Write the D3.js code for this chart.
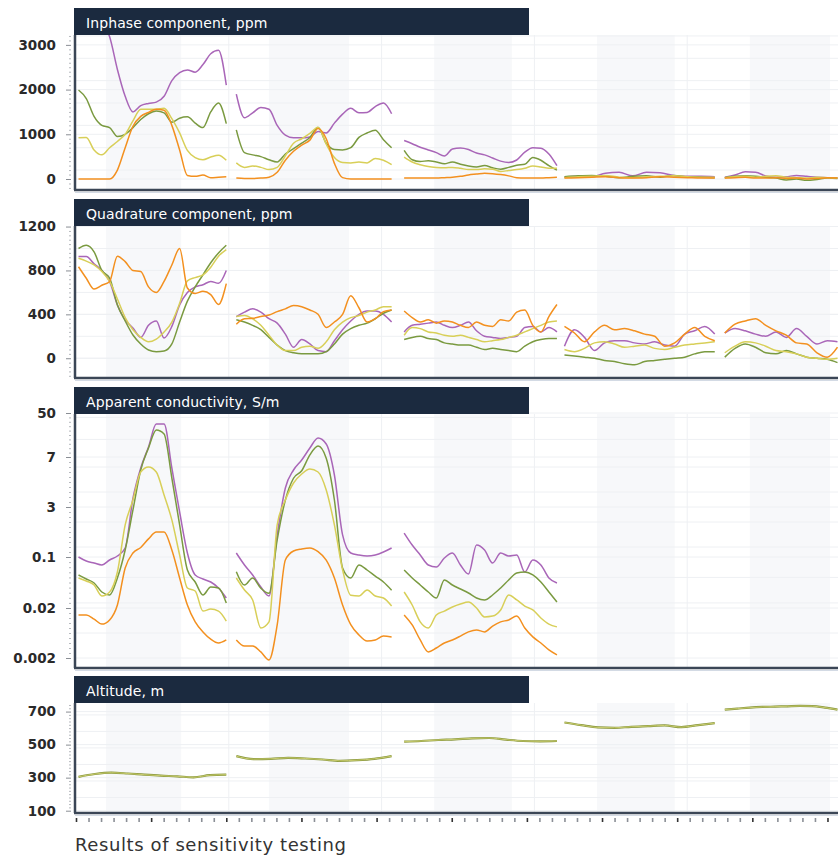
<!DOCTYPE html>
<html>
<head>
<meta charset="utf-8">
<script src="https://cdn.jsdelivr.net/npm/d3@7"></script>
<style>
  body { margin: 0; background: #fff; }
  text { font-family: "DejaVu Sans", Lato, sans-serif; }
</style>
</head>
<body>
<div id="chart"></div>
<script>
// flight segments along the profile (x units)
const segStart = [1, 64, 131, 195, 259];
const segEnd   = [60, 126, 192, 255, 304];
// shaded bands and vertical grid
const bandStart = [12, 77, 143, 208, 269];
const bandEnd   = [42, 109, 174, 239, 301];
const gridX = [61, 122, 183, 244];

// Inphase component, ppm (one array per segment)
const inphasePurple = [
  [4200,4000,3800,3500,3180,2450,1850,1500,1640,1690,1720,1850,2200,2380,2440,2390,2560,2800,2880,2100],
  [1900,1370,1480,1600,1560,1200,980,920,920,940,1060,1030,1250,1450,1580,1480,1490,1620,1700,1460],
  [860,790,710,650,590,515,670,694,660,580,540,470,400,370,425,600,700,690,560,300],
  [40,60,50,130,150,70,150,140,80,60,60,50],
  [40,90,160,150,70,40,50,80,60,40,30,30]
];
const inphaseGreen = [
  [1990,1800,1400,1200,1150,950,1000,1150,1330,1460,1520,1480,1270,1360,1390,1250,1150,1500,1700,1240],
  [1100,590,540,500,430,380,560,680,800,930,1150,800,660,650,700,930,1030,1090,880,700],
  [640,430,390,410,380,340,380,330,290,270,300,250,220,260,310,330,480,420,300,200],
  [50,70,80,60,30,60,70,40,80,50,40,30],
  [30,60,70,60,40,20,-20,0,-30,-10,20,10]
];
const inphaseYellow = [
  [920,930,650,540,700,840,1000,1300,1560,1560,1560,1580,1350,1030,640,480,430,490,530,420],
  [360,260,290,260,210,260,520,800,900,1020,1160,780,480,370,360,380,360,460,420,320],
  [490,380,320,280,260,250,260,240,210,210,230,220,170,190,210,240,290,270,240,240],
  [30,50,60,80,40,30,50,60,70,50,40,40],
  [30,50,60,40,60,70,40,30,20,40,30,20]
];
const inphaseOrange = [
  [0,0,0,0,0,200,700,1180,1400,1490,1560,1540,1200,650,80,60,90,30,40,50],
  [20,10,10,20,40,150,420,620,760,870,1130,900,350,30,0,0,0,0,0,0],
  [20,20,20,20,20,30,40,60,90,110,130,120,100,70,30,20,20,20,30,40],
  [20,30,40,50,30,20,30,50,40,30,20,20],
  [20,30,40,20,20,30,10,20,0,10,30,20]
];

// Quadrature component, ppm
const quadPurple = [
  [926,926,860,800,700,486,350,275,190,300,340,185,290,486,600,650,670,700,683,800],
  [380,420,450,420,360,320,220,100,170,130,70,60,160,260,340,400,430,430,400,330],
  [240,300,310,320,330,300,280,300,330,250,200,190,180,190,200,280,290,240,280,240],
  [110,260,190,70,140,160,160,140,130,150,120,110,220,250,290,220],
  [230,270,250,220,200,240,190,270,200,130,160,150]
];
const quadGreen = [
  [1000,1030,970,800,730,486,340,212,130,75,60,65,130,330,520,650,760,870,960,1030],
  [350,330,300,260,190,120,70,50,40,40,40,60,130,220,270,300,320,360,410,440],
  [170,190,200,180,170,140,130,120,120,100,80,90,80,70,60,110,150,170,180,180],
  [30,20,10,0,-20,-30,-50,-60,-30,-20,-10,0,10,40,60,60],
  [10,90,130,100,50,40,70,40,10,0,-10,-40]
];
const quadYellow = [
  [911,885,850,790,700,540,370,260,190,150,175,240,330,500,705,735,760,830,930,990],
  [380,390,360,300,210,120,70,70,100,110,90,150,260,330,370,390,420,440,470,470],
  [210,280,270,240,230,210,200,210,190,170,150,160,170,190,210,240,270,300,330,340],
  [80,60,90,140,150,130,100,110,120,90,80,100,120,130,140,150],
  [50,110,150,140,110,70,60,40,10,0,-10,0]
];
const quadOrange = [
  [834,729,630,665,700,930,880,800,790,650,600,700,850,1000,640,590,610,580,490,680],
  [310,360,364,380,394,425,450,480,470,440,400,280,330,400,570,460,330,360,425,440],
  [430,370,330,350,320,340,330,300,280,330,300,290,350,340,420,440,300,240,380,490],
  [290,230,150,240,300,260,270,250,220,200,110,140,220,280,200,160],
  [230,310,340,360,300,250,210,140,130,50,10,100]
];

// Apparent conductivity, S/m
const condPurple = [
  [0.1,0.0937,0.0906,0.0875,0.0953,0.158,0.622,3.7,6.12,16.8,39.2,39.2,6.12,2.71,0.332,0.0718,0.0655,0.0608,0.0514,0.0357],
  [0.332,0.0875,0.0718,0.053,0.0388,1.38,4.52,5.96,6.76,15.8,25.6,19.7,5.56,1.38,0.332,0.216,0.158,0.216,0.39,0.622],
  [1.49,0.796,0.216,0.0875,0.0843,0.0984,0.332,0.0875,0.0733,0.796,0.506,0.0906,0.332,0.158,0.216,0.0765,0.0953,0.0875,0.0671,0.0592],
  [], []
];
const condGreen = [
  [0.0718,0.0655,0.0592,0.0451,0.0404,0.0671,0.506,2.83,5.96,15.8,33.4,29.5,5.32,1.96,0.0796,0.0608,0.0404,0.053,0.0514,0.0278],
  [0.077,0.056,0.067,0.051,0.043,1.09,3.56,5.3,5.9,9.0,17.7,6.9,3.56,0.0828,0.067,0.0875,0.0796,0.07,0.0608,0.048],
  [0.0796,0.0671,0.0561,0.0451,0.0357,0.0639,0.0561,0.0498,0.0435,0.0357,0.0326,0.0404,0.0514,0.0639,0.0749,0.0765,0.0718,0.0608,0.0451,0.0294],
  [], []
];
const condYellow = [
  [0.0671,0.0624,0.0561,0.0388,0.0451,0.0765,1.96,3.56,5.8,6.2,5.8,3.96,2.25,0.216,0.0514,0.0467,0.0189,0.0196,0.0189,0.0153],
  [0.0671,0.0482,0.0326,0.0128,0.015,1.96,3.56,4.92,5.64,6.04,5.8,4.36,1.96,0.08,0.04,0.0388,0.0482,0.0388,0.0357,0.0231],
  [0.0451,0.0247,0.015,0.0128,0.0175,0.0189,0.0216,0.0263,0.0294,0.02,0.0168,0.0171,0.0193,0.0404,0.0326,0.0231,0.0193,0.0164,0.0142,0.0132],
  [], []
];
const condOrange = [
  [0.0175,0.0175,0.016,0.0142,0.0157,0.0247,0.0828,0.332,0.65,1.15,1.55,1.55,0.506,0.0671,0.0247,0.015,0.0114,0.0088,0.0074,0.0085],
  [0.0085,0.0063,0.0063,0.0042,0.0013,0.0139,0.0953,0.448,0.564,0.622,0.41,0.095,0.067,0.0247,0.014,0.0103,0.0081,0.0085,0.0099,0.0096],
  [0.0175,0.0139,0.0085,0.0042,0.0056,0.0074,0.0085,0.0099,0.0114,0.0121,0.0114,0.0135,0.015,0.0157,0.0171,0.0128,0.0096,0.0074,0.0049,0.0031],
  [], []
];

// Altitude, m
const altitude = [
  [305,322,330,325,318,312,308,302,315,318],
  [430,412,414,420,416,410,402,406,414,430],
  [518,522,528,532,538,540,530,522,520,522],
  [634,618,604,602,608,612,616,606,618,630],
  [712,718,724,728,730,732,734,733,724,712]
];

// axis ticks
const inphaseTicks = [0, 1000, 2000, 3000];
const quadTicks = [0, 400, 800, 1200];
const condTicks = [0.002, 0.02, 0.1, 3, 7, 50];
const condLabels = ["0.002", "0.02", "0.1", "3", "7", "50"];
const altTicks = [100, 300, 500, 700];

const colors = ["#a966b8", "#7a9a40", "#d8cf58", "#f3901f"];

const width = 839, height = 857;
const plotLeft = 75, plotRight = 838;

const svg = d3.select("#chart").append("svg")
    .attr("width", width)
    .attr("height", height);

const x = d3.scaleLinear().domain([0, 305]).range([76, 840]);

function minorBetween(ticks, n) {
  const out = [];
  for (let i = 0; i < ticks.length - 1; i++) {
    for (let k = 1; k < n; k++) out.push(ticks[i] + (ticks[i+1] - ticks[i]) * k / n);
  }
  return out;
}

const panels = [
  { title: "Inphase component, ppm", top: 8, bottom: 190,
    y: d3.scaleLinear().domain([-246, 3221]).range([190, 35]),
    ticks: inphaseTicks, labels: inphaseTicks.map(String),
    minor: d3.range(-200, 3300, 100),
    series: [inphasePurple, inphaseGreen, inphaseYellow, inphaseOrange] },
  { title: "Quadrature component, ppm", top: 199, bottom: 378,
    y: d3.scaleLinear().domain([-180, 1205]).range([378, 226]),
    ticks: quadTicks, labels: quadTicks.map(String),
    minor: d3.range(-160, 1240, 40),
    series: [quadPurple, quadGreen, quadYellow, quadOrange] },
  { title: "Apparent conductivity, S/m", top: 387, bottom: 668,
    y: d3.scaleLinear().domain(condTicks).range([658, 608, 557, 507, 457, 413]),
    ticks: condTicks, labels: condLabels,
    minor: minorBetween(condTicks, 10),
    series: [condPurple, condGreen, condYellow, condOrange] },
  { title: "Altitude, m", top: 676, bottom: 813,
    y: d3.scaleLinear().domain([86, 752]).range([813, 703]),
    ticks: altTicks, labels: altTicks.map(String),
    minor: d3.range(100, 760, 20),
    series: null }
];

const headerH = 27;

panels.forEach((p, pi) => {
  const plotTop = p.top + headerH;
  const g = svg.append("g");

  // shaded bands
  g.selectAll("rect.band")
    .data(bandStart)
    .enter().append("rect")
      .attr("x", (d) => x(d))
      .attr("width", (d, i) => x(bandEnd[i]) - x(d))
      .attr("y", plotTop)
      .attr("height", p.bottom - plotTop)
      .attr("fill", "#f7f8fa");

  // grid
  g.selectAll("line.hgrid")
    .data(p.ticks.concat(p.minor.filter((d, i) => i % 5 === 4)))
    .enter().append("line")
      .attr("x1", plotLeft).attr("x2", plotRight)
      .attr("y1", d => p.y(d)).attr("y2", d => p.y(d))
      .attr("stroke", "#eef0f3").attr("stroke-width", 1);
  g.selectAll("line.vgrid")
    .data(gridX)
    .enter().append("line")
      .attr("x1", d => x(d)).attr("x2", d => x(d))
      .attr("y1", plotTop).attr("y2", p.bottom)
      .attr("stroke", "#eef0f3").attr("stroke-width", 1);

  // clip
  const clipId = "clip" + pi;
  svg.append("clipPath").attr("id", clipId)
    .append("rect")
      .attr("x", plotLeft).attr("y", plotTop)
      .attr("width", plotRight - plotLeft).attr("height", p.bottom - plotTop);

  const lines = g.append("g").attr("clip-path", "url(#" + clipId + ")");
  const line = d3.line()
    .x(d => x(d.x))
    .y(d => p.y(d.v))
    .curve(d3.curveMonotoneX);

  function toPoints(values, s) {
    const n = values.length;
    return values.map((v, i) => ({ x: segStart[s] + (segEnd[s] - segStart[s]) * i / (n - 1), v: v }));
  }

  if (p.series) {
    p.series.forEach((ser, ci) => {
      ser.forEach((vals, s) => {
        if (!vals.length) return;
        lines.append("path")
          .attr("d", line(toPoints(vals, s)))
          .attr("fill", "none")
          .attr("stroke", colors[ci])
          .attr("stroke-width", 1.5)
          .attr("stroke-linejoin", "round");
      });
    });
  } else {
    altitude.forEach((vals, s) => {
      lines.append("path")
        .attr("d", line(toPoints(vals, s)))
        .attr("fill", "none")
        .attr("stroke", "#86953a")
        .attr("stroke-width", 2.2);
      lines.append("path")
        .attr("d", line(toPoints(vals, s)))
        .attr("fill", "none")
        .attr("stroke", "#dada7c")
        .attr("stroke-width", 0.8);
    });
  }

  // frame
  g.append("line")
    .attr("x1", plotLeft).attr("x2", plotLeft)
    .attr("y1", plotTop).attr("y2", p.bottom)
    .attr("stroke", "#3b4656").attr("stroke-width", 2.5);
  g.append("line")
    .attr("x1", plotLeft - 1).attr("x2", plotRight)
    .attr("y1", p.bottom).attr("y2", p.bottom)
    .attr("stroke", "#3b4656").attr("stroke-width", 2.5);
  g.append("line")
    .attr("x1", plotLeft).attr("x2", plotRight)
    .attr("y1", p.bottom + 2.5).attr("y2", p.bottom + 2.5)
    .attr("stroke", "#d3dae4").attr("stroke-width", 1);

  // header
  g.append("rect")
    .attr("x", plotLeft - 1).attr("y", p.top)
    .attr("width", 529 - plotLeft + 1).attr("height", headerH)
    .attr("fill", "#1b2a3f");
  g.append("text")
    .attr("x", 86).attr("y", p.top + 19.5)
    .attr("fill", "#ffffff")
    .style("font-size", "14px")
    .style("letter-spacing", "0.1px")
    .text(p.title);

  // minor ticks
  const minorAxis = d3.axisLeft(p.y)
    .tickValues(p.minor.filter(d => !p.ticks.includes(d) && p.y(d) >= plotTop - 6 && p.y(d) <= p.bottom))
    .tickSize(2).tickFormat("");
  g.append("g").attr("transform", "translate(71,0)")
    .call(minorAxis)
    .call(a => a.select(".domain").remove())
    .call(a => a.selectAll(".tick line").attr("stroke", "#b5b8bd"));

  // major ticks
  const yAxis = d3.axisLeft(p.y)
    .tickValues(p.ticks)
    .tickSize(5).tickPadding(10)
    .tickFormat((d, i) => p.labels[i]);
  g.append("g").attr("transform", "translate(71,0)")
    .call(yAxis)
    .call(a => a.select(".domain").remove())
    .call(a => a.selectAll(".tick line").attr("stroke", "#8a8e94"))
    .call(a => a.selectAll(".tick text")
      .attr("fill", "#2a2a2a")
      .style("font-size", "13.5px")
      .style("font-weight", "bold")
      .style("font-family", "'DejaVu Sans', sans-serif"));
});

// bottom distance ticks
const xAxis = d3.axisBottom(x)
  .tickValues(d3.range(0, 306, 5))
  .tickSize(4).tickFormat("");
svg.append("g").attr("transform", "translate(0,818)")
  .call(xAxis)
  .call(a => a.select(".domain").remove())
  .call(a => a.selectAll(".tick line")
    .attr("stroke", (d, i) => i % 6 === 0 ? "#333" : "#8b8f96")
    .attr("stroke-width", 1.6));

svg.append("text")
  .attr("x", 75).attr("y", 851)
  .attr("fill", "#333")
  .style("font-size", "18px")
  .style("letter-spacing", "0.6px")
  .text("Results of sensitivity testing");
</script>
</body>
</html>
